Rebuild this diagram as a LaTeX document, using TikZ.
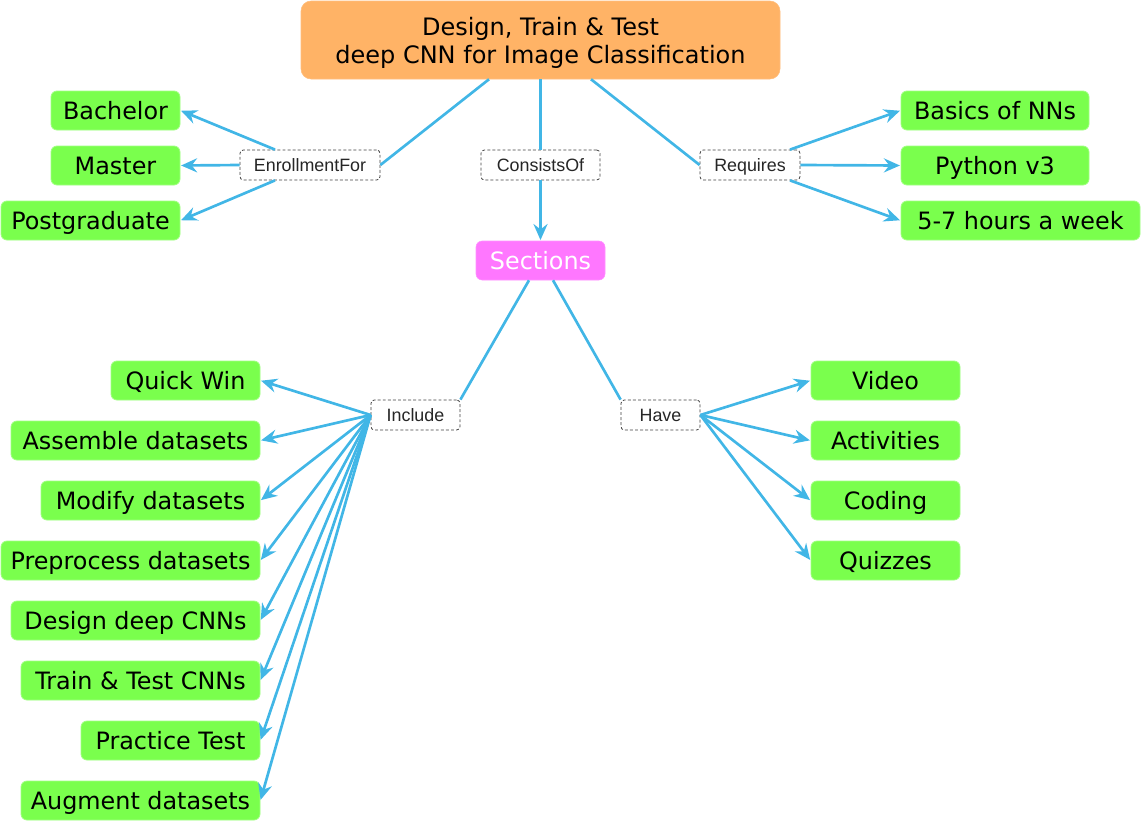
\documentclass[tikz,border=0pt]{standalone}
\usepackage{fontspec}
\setmainfont{DejaVu Sans}
\newfontfamily\labfont{Liberation Sans}
\usetikzlibrary{arrows.meta,calc}
\definecolor{gfill}{RGB}{122,255,77}
\definecolor{gedge}{RGB}{160,255,130}
\definecolor{ofill}{RGB}{255,179,102}
\definecolor{mfill}{RGB}{255,119,255}
\definecolor{lblue}{RGB}{65,182,230}
\begin{document}
\begin{tikzpicture}[x=0.75pt,y=-0.75pt,
  gbox/.style={fill=gfill,draw=gedge,line width=0.6pt,rounded corners=4.5pt,inner sep=0pt,
    minimum height=39*0.75pt,text height=14pt,text depth=0pt,font=\fontsize{17.9}{20}\selectfont},
  lab/.style={draw=black!75,dashed,dash pattern=on 2.2pt off 1.6pt,line width=0.6pt,rounded corners=2.5pt,
    fill=white,inner sep=0pt,minimum height=30*0.75pt,text height=10pt,text depth=0pt,
    font=\labfont\fontsize{13.4}{15}\selectfont,text=black!85},
  conn/.style={draw=lblue,line width=2pt},
  arr/.style={conn,-{Stealth[length=12pt,width=10.5pt,inset=4pt]},shorten >=0.5pt}]
\useasboundingbox (0,0) rectangle (1141,821);

% top node
\node[fill=ofill,draw=ofill!85!white,rounded corners=7.5pt,minimum width=479*0.75pt,minimum height=78*0.75pt,
  inner sep=0pt] (top) at (540.5,40) {};
\node[align=center,font=\fontsize{18}{21}\selectfont,inner sep=0pt] (title) at (540.5,43)
  {Design, Train \& Test\\deep CNN for Image Classification};

% relation labels
\node[lab,minimum width=140*0.75pt] (enr) at (310,165) {EnrollmentFor};
\node[lab,minimum width=119*0.75pt] (cons) at (540.5,165) {ConsistsOf};
\node[lab,minimum width=100*0.75pt] (req) at (750,165) {Requires};

% sections
\node[fill=mfill,draw=mfill!80!white,rounded corners=4.5pt,minimum width=129*0.75pt,minimum height=39*0.75pt,
  inner sep=0pt,text=white,text height=14pt,text depth=0pt,font=\fontsize{17.9}{20}\selectfont] (sec) at (540.5,260.5) {Sections};

\node[lab,minimum width=89*0.75pt] (inc) at (415.5,415) {Include};
\node[lab,minimum width=79*0.75pt] (have) at (660.5,415) {Have};

% left top
\node[gbox,minimum width=129*0.75pt] (bach) at (115.5,110.5) {Bachelor};
\node[gbox,minimum width=129*0.75pt] (mast) at (115.5,165.5) {Master};
\node[gbox,minimum width=179*0.75pt] (post) at (90.5,220.5) {Postgraduate};

% right top
\node[gbox,minimum width=188*0.75pt] (nns) at (995,110.5) {Basics of NNs};
\node[gbox,minimum width=188*0.75pt] (py) at (995,165.5) {Python v3};
\node[gbox,minimum width=239*0.75pt] (hrs) at (1020.5,220.5) {5-7 hours a week};

% right bottom
\node[gbox,minimum width=149*0.75pt] (vid) at (885.5,380.5) {Video};
\node[gbox,minimum width=149*0.75pt] (act) at (885.5,440.5) {Activities};
\node[gbox,minimum width=149*0.75pt] (cod) at (885.5,500.5) {Coding};
\node[gbox,minimum width=149*0.75pt] (quiz) at (885.5,560.5) {Quizzes};

% left bottom
\node[gbox,minimum width=149*0.75pt] (qw) at (185.5,380.5) {Quick Win};
\node[gbox,minimum width=249*0.75pt] (asm) at (135.5,440.5) {Assemble datasets};
\node[gbox,minimum width=219*0.75pt] (mod) at (150.5,500.5) {Modify datasets};
\node[gbox,minimum width=259*0.75pt] (pre) at (130.5,560.5) {Preprocess datasets};
\node[gbox,minimum width=249*0.75pt] (des) at (135.5,620.5) {Design deep CNNs};
\node[gbox,minimum width=239*0.75pt] (trn) at (140.5,680.5) {Train \& Test CNNs};
\node[gbox,minimum width=179*0.75pt] (prt) at (170.5,740.5) {Practice Test};
\node[gbox,minimum width=239*0.75pt] (aug) at (140.5,800.5) {Augment datasets};

% connectors from top
\draw[conn] ($(top.south)+(-51.5,0)$) -- (enr.east);
\draw[conn] (top.south) -- (cons.north);
\draw[arr] (cons.south) -- (sec.north);
\draw[conn] ($(top.south)+(50.5,0)$) -- (req.west);

% enrollment
\draw[arr] ($(enr.north)+(-35,0)$) -- (bach.east);
\draw[arr] (enr.west) -- (mast.east);
\draw[arr] ($(enr.south)+(-35,0)$) -- (post.east);

% requires
\draw[arr] ($(req.north)+(40,0)$) -- (nns.west);
\draw[arr] (req.east) -- (py.west);
\draw[arr] ($(req.south)+(40,0)$) -- (hrs.west);

% sections
\draw[conn] ($(sec.south)+(-11.5,0)$) -- (inc.north east);
\draw[conn] ($(sec.south)+(12.5,0)$) -- (have.north west);

% include
\foreach \t in {qw,asm,mod,pre,des,trn,prt,aug}
  \draw[arr] (inc.west) -- (\t.east);

% have
\foreach \t in {vid,act,cod,quiz}
  \draw[arr] (have.east) -- (\t.west);
\end{tikzpicture}
\end{document}
